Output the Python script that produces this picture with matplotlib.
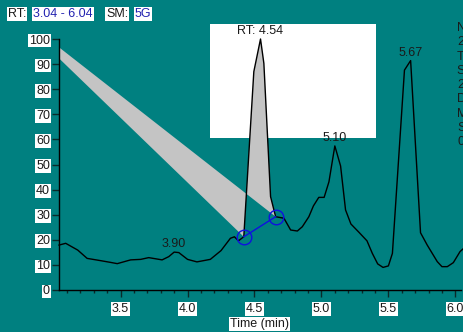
import matplotlib
matplotlib.use("Agg")
import matplotlib.pyplot as plt
from matplotlib.patches import Rectangle, Polygon
import numpy as np

plt.rcParams['font.family'] = ['Liberation Sans', 'DejaVu Sans']

# ---- data ----
time_min = [3.04, 3.09, 3.18, 3.25, 3.35, 3.425, 3.475, 3.575, 3.65, 3.71, 3.81, 3.86,
            3.90, 3.935, 4.00, 4.07, 4.17, 4.25, 4.32, 4.35, 4.38, 4.42, 4.495, 4.545,
            4.57, 4.62, 4.645, 4.658, 4.72, 4.77, 4.82, 4.857, 4.906, 4.94, 4.98, 5.02,
            5.056, 5.10, 5.143, 5.18, 5.22, 5.28, 5.34, 5.38, 5.42, 5.46, 5.50, 5.53,
            5.62, 5.666, 5.74, 5.79, 5.865, 5.90, 5.94, 5.985, 6.035, 6.06]
intensity = [17.9, 18.6, 15.9, 12.6, 11.7, 11.0, 10.5, 12.0, 12.2, 12.9, 12.0, 13.3,
             15.1, 14.9, 12.2, 11.2, 12.2, 15.7, 20.6, 21.2, 19.6, 21.2, 87.0, 100.0,
             90.3, 37.2, 31.9, 29.2, 28.6, 23.9, 23.5, 25.2, 29.2, 33.5, 36.9, 36.9,
             43.1, 57.4, 49.4, 31.9, 26.3, 23.0, 19.6, 14.6, 10.4, 9.0, 9.6, 14.6,
             87.6, 91.4, 22.8, 17.9, 11.3, 9.3, 9.3, 10.9, 15.3, 16.5]

peak_start = 4.42
peak_end = 4.658
callout_time = 3.04
callout_y = [96.7, 92.3]

peak_labels = [(3.90, 15.1, "3.90"), (4.545, 100.0, "RT: 4.54"),
               (5.10, 57.4, "5.10"), (5.666, 91.4, "5.67")]

y_ticks = list(range(0, 101, 10))
x_ticks = [3.5, 4.0, 4.5, 5.0, 5.5, 6.0]
x_ticklabels = ["3.5", "4.0", "4.5", "5.0", "5.5", "6.0"]
x_minor = [round(3.1 + 0.1 * i, 2) for i in range(30)]

info_lines = ["NL: 2.53E7", "2", "TIC F: MS", "SM: 5G", "2", "Data", "MS", "Sample", "0"]

# ---- figure ----
BG = '#008080'
TXT = '#1a1a1a'
BLUE = '#2222b0'
FS = 9
fig = plt.figure(figsize=(4.63, 3.32), dpi=100, facecolor=BG)
ax = fig.add_axes([59 / 463, 42 / 332, 401.7 / 463, 251 / 332])
ax.set_facecolor('none')

# white box (label area)
ax.add_patch(Rectangle((210 / 463, 194 / 332), 166 / 463, 114 / 332,
                       transform=fig.transFigure, facecolor='white',
                       edgecolor='none', zorder=1, clip_on=False))

t = np.array(time_min)
y = np.array(intensity)
mask = (t >= peak_start - 1e-9) & (t <= peak_end + 1e-9)
poly_pts = list(zip(t[mask], y[mask])) + [(callout_time, callout_y[0]),
                                          (callout_time, callout_y[1])]
ax.add_patch(Polygon(poly_pts, closed=True, facecolor='#c4c4c4',
                     edgecolor='none', zorder=2, clip_on=False))

ax.plot(t, y, color='black', lw=1.0, zorder=3, clip_on=False)

# baseline
y_s = y[np.argmin(abs(t - peak_start))]
y_e = y[np.argmin(abs(t - peak_end))]
ax.plot([peak_start, peak_end], [y_s, y_e], color='#1010e0', lw=1.0, zorder=4)
ax.plot([peak_start, peak_end], [y_s, y_e], 'o', ms=10.5, mfc='none', mec='#1010e0',
        mew=1.0, zorder=4)

for px, py, lab in peak_labels:
    ax.annotate(lab, (px, py), xytext=(0, 1.5), textcoords='offset points',
                ha='center', va='bottom', fontsize=FS, color=TXT, zorder=5,
                annotation_clip=False)

ax.set_xlim(3.04, 6.04)
ax.set_ylim(0, 100)
for s in ['top', 'right']:
    ax.spines[s].set_visible(False)
for s in ['left', 'bottom']:
    ax.spines[s].set_color('black')
    ax.spines[s].set_linewidth(1.0)

ax.set_yticks(y_ticks)
ax.set_yticklabels([str(v) for v in y_ticks])
ax.set_xticks(x_ticks)
ax.set_xticklabels(x_ticklabels)
ax.set_xticks(x_minor, minor=True)
ax.tick_params(axis='y', length=5, width=1, color='#0a2a2a', pad=1.5,
               labelsize=FS, labelcolor=TXT)
ax.tick_params(axis='x', which='major', length=5, width=1, color='#0a2a2a', pad=4.5,
               labelsize=FS, labelcolor=TXT)
ax.tick_params(axis='x', which='minor', length=2.5, width=1, color='#0a2a2a')
for lab in ax.get_xticklabels() + ax.get_yticklabels():
    lab.set_bbox(dict(facecolor='white', edgecolor='none', pad=0.6))

ax.set_xlabel("Time (min)", fontsize=FS, color=TXT, labelpad=2,
              bbox=dict(facecolor='white', edgecolor='none', pad=0.6))

# header
hdr_y = 1 - 14 / 332
HFS = 9
fig.text(8 / 463, hdr_y, "RT:", fontsize=HFS, color=TXT, va='center', ha='left',
         bbox=dict(facecolor='white', edgecolor='none', pad=0.6))
fig.text(33 / 463, hdr_y, "3.04 - 6.04", fontsize=HFS, color=BLUE, va='center', ha='left',
         bbox=dict(facecolor='white', edgecolor='none', pad=0.6))
fig.text(106 / 463, hdr_y, "SM:", fontsize=HFS, color=TXT, va='center', ha='left',
         bbox=dict(facecolor='white', edgecolor='none', pad=0.6))
fig.text(135 / 463, hdr_y, "5G", fontsize=HFS, color=BLUE, va='center', ha='left',
         bbox=dict(facecolor='white', edgecolor='none', pad=0.6))

for i, line in enumerate(info_lines):
    fig.text(457 / 463, 1 - (28 + 14.3 * i) / 332, line, fontsize=FS, color=TXT,
             va='center', ha='left')

fig.savefig("out.png", dpi=100, facecolor=BG)
